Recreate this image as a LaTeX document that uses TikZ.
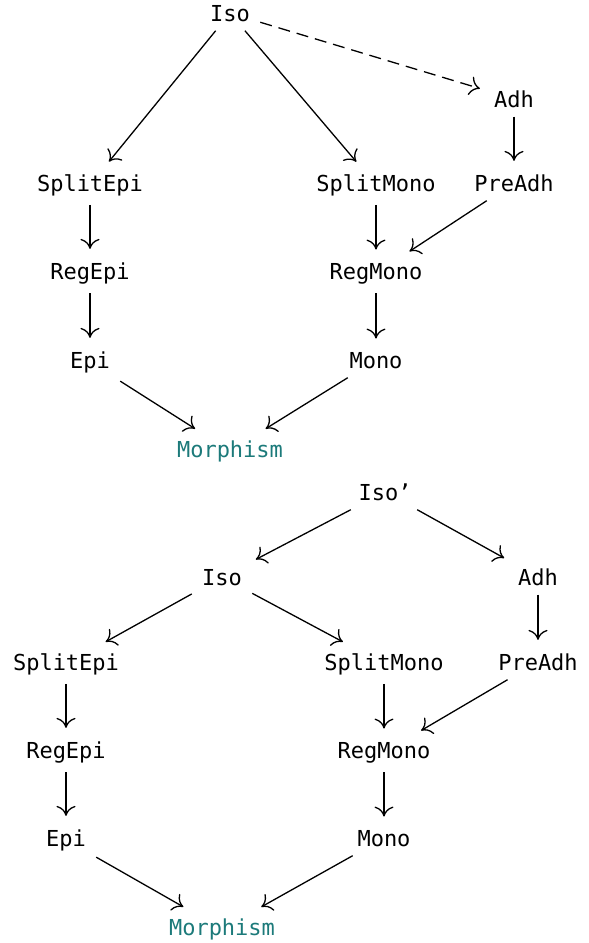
\documentclass[tikz,border=0pt]{standalone}
\usepackage{fontspec}
\setmonofont{DejaVu Sans Mono}
\usetikzlibrary{arrows.meta}
\definecolor{teal1}{RGB}{28,122,122}
\begin{document}
\begin{tikzpicture}[x=0.5pt,y=-0.5pt,
  obj/.style={anchor=base,font=\ttfamily\fontsize{11}{13}\selectfont,inner ysep=4.5pt,inner xsep=5pt},
  mor/.style={obj,text=teal1},
  arr/.style={-{Computer Modern Rightarrow[length=5pt,width=9.5pt]},line width=0.65pt,shorten >=2pt},
  darr/.style={arr,dash pattern=on 6pt off 3.5pt}]
\useasboundingbox (0,0) rectangle (589,943);
% top diagram
\node[obj] (iso) at (230,21) {Iso};
\node[obj] (adh) at (514,107) {Adh};
\node[obj] (se) at (90,191) {SplitEpi};
\node[obj] (sm) at (376,191) {SplitMono};
\node[obj] (pa) at (514,191) {PreAdh};
\node[obj] (re) at (90,279) {RegEpi};
\node[obj] (rm) at (376,279) {RegMono};
\node[obj] (ep) at (90,368) {Epi};
\node[obj] (mo) at (376,368) {Mono};
\node[mor] (mp) at (230,457) {Morphism};
\draw[arr] (iso) -- (se);
\draw[arr] (iso) -- (sm);
\draw[darr] (iso) -- (adh);
\draw[arr] (adh) -- (pa);
\draw[arr] (se) -- (re);
\draw[arr] (sm) -- (rm);
\draw[arr] (pa) -- (rm);
\draw[arr] (re) -- (ep);
\draw[arr] (rm) -- (mo);
\draw[arr] (ep) -- (mp);
\draw[arr] (mo) -- (mp);
% bottom diagram
\node[obj] (isop) at (385,500) {Iso’};
\node[obj] (iso2) at (222,585) {Iso};
\node[obj] (adh2) at (538,585) {Adh};
\node[obj] (se2) at (66,670) {SplitEpi};
\node[obj] (sm2) at (384,670) {SplitMono};
\node[obj] (pa2) at (538,670) {PreAdh};
\node[obj] (re2) at (66,758) {RegEpi};
\node[obj] (rm2) at (384,758) {RegMono};
\node[obj] (ep2) at (66,846) {Epi};
\node[obj] (mo2) at (384,846) {Mono};
\node[mor] (mp2) at (222,935) {Morphism};
\draw[arr] (isop) -- (iso2);
\draw[arr] (isop) -- (adh2);
\draw[arr] (iso2) -- (se2);
\draw[arr] (iso2) -- (sm2);
\draw[arr] (adh2) -- (pa2);
\draw[arr] (se2) -- (re2);
\draw[arr] (sm2) -- (rm2);
\draw[arr] (pa2) -- (rm2);
\draw[arr] (re2) -- (ep2);
\draw[arr] (rm2) -- (mo2);
\draw[arr] (ep2) -- (mp2);
\draw[arr] (mo2) -- (mp2);
\end{tikzpicture}
\end{document}
